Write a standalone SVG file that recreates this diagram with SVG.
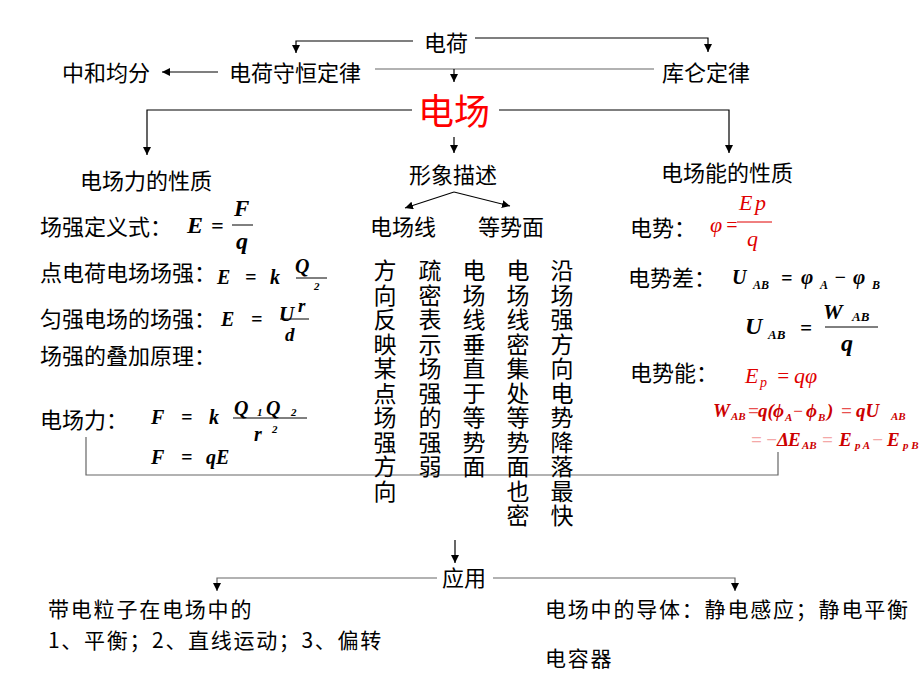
<svg xmlns="http://www.w3.org/2000/svg" width="920" height="690" viewBox="0 0 920 690">
<defs>
<marker id="ah" viewBox="0 0 10 10" refX="10" refY="5" markerWidth="8" markerHeight="8" markerUnits="userSpaceOnUse" orient="auto">
<path d="M0,0 L10,5 L0,10 z" fill="#000"/>
</marker>
<style>
.t{font-family:"Noto Sans CJK SC","Noto Sans",sans-serif;font-size:22px;fill:#000}
.b{font-family:"Noto Sans CJK SC","Noto Sans",sans-serif;font-size:21px;letter-spacing:1.8px;fill:#000}
.v{font-family:"Noto Sans CJK SC","Noto Sans",sans-serif;font-size:23px;fill:#000;writing-mode:vertical-rl;letter-spacing:1.5px}
.f{font-family:"Liberation Serif","Times New Roman",serif;font-weight:bold;font-style:italic;fill:#000}
.r{font-family:"Liberation Serif","Times New Roman",serif;font-style:italic;fill:#e00000}
.rb{font-family:"Liberation Serif","Times New Roman",serif;font-style:italic;font-weight:bold;fill:#cc0000}
.lr{fill:#e85050}
.pk{fill:#f4a8a8}
.ln{fill:none;stroke:#000;stroke-width:1.2}
.gl{fill:none;stroke:#666;stroke-width:1.2}
.a{marker-end:url(#ah)}
.fl{stroke:#000;stroke-width:1}
.rfl{stroke:#e00000;stroke-width:1}
</style>
</defs>
<rect width="920" height="690" fill="#fff"/>

<g id="connectors">
<polyline class="ln a" points="413,41 296,41 296,53"/>
<polyline class="ln a" points="475,38 708,38 708,52"/>
<line class="ln a" x1="218" y1="72" x2="162" y2="72"/>
<line class="gl" x1="375" y1="69" x2="654" y2="69"/>
<line class="ln a" x1="454" y1="69" x2="454" y2="82"/>
<polyline class="ln a" points="412,110 147,110 147,155"/>
<polyline class="ln a" points="499,110 729,110 729,153"/>
<line class="ln a" x1="454" y1="137" x2="454" y2="153"/>
<line class="ln a" x1="454" y1="192" x2="405" y2="208"/>
<line class="ln a" x1="454" y1="192" x2="510" y2="206"/>
<polyline class="gl" points="86,437 86,475 778,475 778,452"/>
<line class="ln a" x1="455" y1="540" x2="455" y2="563"/>
<polyline class="gl a" points="437,578 217,578 217,591"/>
<polyline class="gl a" points="493,578 735,578 735,591"/>
</g>

<g id="n-dianhe"><text class="t" x="424" y="51">电荷</text></g>
<g id="n-zhonghe"><text class="t" x="62" y="81">中和均分</text></g>
<g id="n-shouheng"><text class="t" x="229" y="81">电荷守恒定律</text></g>
<g id="n-kulun"><text class="t" x="662" y="81">库仑定律</text></g>
<g id="n-dianchang"><text class="t" x="418" y="125" style="font-size:36px;fill:#ff0000">电场</text></g>

<g id="n-force">
<text class="t" x="80" y="189">电场力的性质</text>
<text class="t" x="40" y="235">场强定义式：</text>
<text class="f" x="187" y="233" font-size="24">E</text>
<text class="f" x="211" y="233" font-size="22" font-style="normal">=</text>
<text class="f" x="234" y="216" font-size="23">F</text>
<line class="fl" x1="232" y1="225" x2="253" y2="225"/>
<text class="f" x="236" y="249" font-size="24">q</text>

<text class="t" x="40" y="281">点电荷电场场强：</text>
<text class="f" x="217" y="284" font-size="20">E</text>
<text class="f" x="245" y="284" font-size="20" font-style="normal">=</text>
<text class="f" x="270" y="284" font-size="20">k</text>
<text class="f" x="295" y="273" font-size="20">Q</text>
<line class="fl" x1="296" y1="278" x2="327" y2="278"/>
<text class="f" x="298" y="312" font-size="19">r</text>
<text class="f" x="314" y="290" font-size="11" font-style="normal">2</text>

<text class="t" x="40" y="327">匀强电场的场强：</text>
<text class="f" x="221" y="326" font-size="20">E</text>
<text class="f" x="251" y="326" font-size="20" font-style="normal">=</text>
<text class="f" x="279" y="321" font-size="21">U</text>
<line class="fl" x1="280" y1="319" x2="309" y2="319"/>
<text class="f" x="285" y="341" font-size="19">d</text>

<text class="t" x="40" y="364">场强的叠加原理：</text>

<text class="t" x="40" y="428">电场力：</text>
<text class="f" x="151" y="424" font-size="20">F</text>
<text class="f" x="181" y="424" font-size="20" font-style="normal">=</text>
<text class="f" x="209" y="424" font-size="20">k</text>
<text class="f" x="234" y="415" font-size="20">Q</text>
<text class="f" x="257" y="416" font-size="11" font-style="normal">1</text>
<text class="f" x="266" y="415" font-size="20">Q</text>
<text class="f" x="291" y="416" font-size="11" font-style="normal">2</text>
<line class="fl" x1="233" y1="418" x2="307" y2="418"/>
<text class="f" x="254" y="441" font-size="20">r</text>
<text class="f" x="272" y="433" font-size="11" font-style="normal">2</text>
<text class="f" x="151" y="464" font-size="20">F</text>
<text class="f" x="181" y="464" font-size="20" font-style="normal">=</text>
<text class="f" x="206" y="464" font-size="20">qE</text>
</g>

<g id="n-xingxiang"><text class="t" x="409" y="183">形象描述</text></g>
<g id="n-dianchangxian"><text class="t" x="370" y="235">电场线</text></g>
<g id="n-dengshimian"><text class="t" x="478" y="235">等势面</text></g>

<g id="n-col1"><text class="v" x="385" y="259">方向反映某点场强方向</text></g>
<g id="n-col2"><text class="v" x="430" y="259">疏密表示场强的强弱</text></g>
<g id="n-col3"><text class="v" x="474" y="259">电场线垂直于等势面</text></g>
<g id="n-col4"><text class="v" x="518" y="259">电场线密集处等势面也密</text></g>
<g id="n-col5"><text class="v" x="562" y="259">沿场强方向电势降落最快</text></g>

<g id="n-energy">
<text class="t" x="661" y="181">电场能的性质</text>
<text class="t" x="630" y="236">电势：</text>
<text class="r" x="710" y="232" font-size="22">φ</text>
<text class="r" x="725" y="232" font-size="20" font-style="normal">=</text>
<text class="r" x="739" y="210" font-size="22">E</text>
<text class="r" x="755" y="210" font-size="22">p</text>
<line class="rfl" x1="737" y1="222" x2="772" y2="222"/>
<text class="r" x="747" y="246" font-size="22">q</text>

<text class="t" x="628" y="286">电势差：</text>
<text class="f" x="732" y="284" font-size="20">U</text>
<text class="f" x="753" y="289" font-size="12">AB</text>
<text class="f" x="781" y="285" font-size="20" font-style="normal">=</text>
<text class="f" x="801" y="284" font-size="21">φ</text>
<text class="f" x="820" y="289" font-size="12">A</text>
<text class="f" x="834" y="284" font-size="20" font-style="normal">−</text>
<text class="f" x="853" y="284" font-size="21">φ</text>
<text class="f" x="872" y="289" font-size="12">B</text>

<text class="f" x="745" y="334" font-size="24">U</text>
<text class="f" x="768" y="339" font-size="13">AB</text>
<text class="f" x="800" y="335" font-size="21" font-style="normal">=</text>
<text class="f" x="823" y="319" font-size="22">W</text>
<text class="f" x="852" y="321" font-size="13">AB</text>
<line class="fl" x1="825" y1="327" x2="878" y2="327"/>
<text class="f" x="841" y="351" font-size="24">q</text>

<text class="t" x="630" y="381">电势能：</text>
<text class="r" x="745" y="383" font-size="22">E</text>
<text class="r" x="760" y="387" font-size="14">p</text>
<text class="r" x="776" y="383" font-size="21" font-style="normal">=</text>
<text class="r" x="794" y="383" font-size="22">qφ</text>

<text class="rb" x="713" y="417" font-size="19">W</text>
<text class="rb" x="731" y="420" font-size="11">AB</text>
<text class="rb lr" x="748" y="417" font-size="19" font-style="normal">=</text>
<text class="rb" x="758" y="417" font-size="19">q(</text>
<text class="rb" x="773" y="417" font-size="19">ϕ</text>
<text class="rb" x="785" y="421" font-size="11">A</text>
<text class="rb lr" x="793" y="417" font-size="17" font-style="normal">−</text>
<text class="rb" x="806" y="417" font-size="19">ϕ</text>
<text class="rb" x="818" y="421" font-size="11">B</text>
<text class="rb" x="827" y="417" font-size="19">)</text>
<text class="rb lr" x="841" y="417" font-size="19" font-style="normal">=</text>
<text class="rb" x="856" y="417" font-size="19">qU</text>
<text class="rb" x="891" y="420" font-size="11">AB</text>

<text class="rb pk" x="751" y="446" font-size="19" font-style="normal">=</text>
<text class="rb pk" x="766" y="446" font-size="19" font-style="normal">−</text>
<text class="rb" x="777" y="446" font-size="19" font-style="normal">Δ</text>
<text class="rb" x="788" y="446" font-size="19">E</text>
<text class="rb" x="802" y="449" font-size="11">AB</text>
<text class="rb pk" x="822" y="446" font-size="19" font-style="normal">=</text>
<text class="rb" x="839" y="446" font-size="19">E</text>
<text class="rb" x="855" y="449" font-size="11">p A</text>
<text class="rb pk" x="872" y="446" font-size="19" font-style="normal">−</text>
<text class="rb" x="887" y="446" font-size="19">E</text>
<text class="rb" x="903" y="449" font-size="11">p B</text>
</g>

<g id="n-yingyong"><text class="t" x="442" y="586">应用</text></g>
<g id="n-particle">
<text class="b" x="48" y="617">带电粒子在电场中的</text>
<text class="b" x="48" y="648" textLength="335" lengthAdjust="spacing">1、平衡；2、直线运动；3、偏转</text>
</g>
<g id="n-conductor">
<text class="b" x="545" y="617">电场中的导体：静电感应；静电平衡</text>
<text class="b" x="545" y="666">电容器</text>
</g>
</svg>
